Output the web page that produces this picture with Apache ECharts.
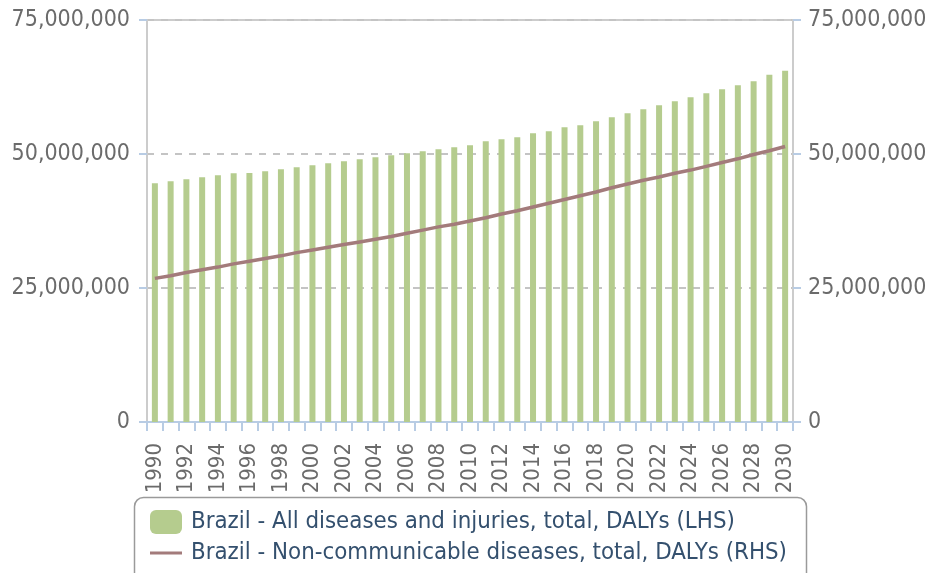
<!DOCTYPE html>
<html>
<head>
<meta charset="utf-8">
<script src="https://cdn.jsdelivr.net/npm/echarts@6/dist/echarts.min.js"></script>
<style>
html,body{margin:0;padding:0;background:#fff;}
#chart{width:932px;height:573px;}
</style>
</head>
<body>
<div id="chart"></div>
<script>
var years = [];
for (var y = 1990; y <= 2030; y++) years.push(String(y));

var allDiseases = [
  44.53, 44.91, 45.28, 45.65, 46.03, 46.40, 46.45, 46.77, 47.15, 47.52,
  47.89, 48.26, 48.64, 49.01, 49.39, 49.76, 50.13, 50.50, 50.88, 51.25,
  51.62, 52.37, 52.74, 53.12, 53.86, 54.24, 54.98, 55.36, 56.10, 56.85,
  57.59, 58.34, 59.09, 59.83, 60.58, 61.33, 62.07, 62.82, 63.56, 64.80,
  65.54
].map(function (v) { return Math.round(v * 1e6); });

var nonCommunicable = [
  26.8, 27.3, 27.9, 28.4, 28.9, 29.5, 30.0, 30.5, 31.0, 31.6,
  32.1, 32.6, 33.1, 33.6, 34.1, 34.6, 35.2, 35.8, 36.4, 36.9,
  37.5, 38.1, 38.8, 39.4, 40.1, 40.8, 41.5, 42.2, 42.9, 43.7,
  44.4, 45.1, 45.7, 46.4, 47.0, 47.7, 48.4, 49.1, 49.9, 50.6,
  51.4
].map(function (v) { return Math.round(v * 1e6); });

var seriesNames = [
  'Brazil - All diseases and injuries, total, DALYs (LHS)',
  'Brazil - Non-communicable diseases, total, DALYs (RHS)'
];

var FONT = '"DejaVu Sans Condensed", "DejaVu Sans", sans-serif';
function fmt(v) { return String(v).replace(/\B(?=(\d{3})+(?!\d))/g, ','); }

var legendText = {fontFamily: FONT, fontSize: 23.8, color: '#34506e', padding: [0, 0, 0, 4]};

var chart = echarts.init(document.getElementById('chart'), null, {renderer: 'canvas'});
chart.setOption({
  animation: false,
  backgroundColor: '#ffffff',
  textStyle: {fontFamily: FONT},
  grid: {
    left: 147, right: 139, top: 20, bottom: 151,
    show: true, borderColor: '#cccccc', borderWidth: 2, backgroundColor: 'transparent'
  },
  graphic: [{
    type: 'rect', z: -1,
    shape: {x: 134.5, y: 497.5, width: 672, height: 110, r: 9},
    style: {fill: '#ffffff', stroke: '#9a9a9a', lineWidth: 1.5}
  }],
  legend: [
    {
      left: 150, top: 510, padding: 0,
      itemWidth: 32, itemHeight: 24,
      textStyle: legendText,
      data: [{name: seriesNames[0], icon: 'roundRect'}]
    },
    {
      left: 150, top: 541, padding: 0,
      itemWidth: 32, itemHeight: 24,
      textStyle: legendText,
      data: [{name: seriesNames[1], icon: 'path://M0,0 L0,0 M0,10.5 L32,10.5 L32,13.5 L0,13.5 Z M32,24 L32,24'}]
    }
  ],
  xAxis: {
    type: 'category',
    data: years,
    boundaryGap: true,
    axisLine: {show: true, lineStyle: {color: '#b8cce4', width: 2}},
    axisTick: {show: true, interval: 0, length: 9, lineStyle: {color: '#b8cce4', width: 2}},
    axisLabel: {interval: 1, rotate: 90, margin: 21, color: '#6b6b6b', fontSize: 22, fontFamily: FONT},
    splitLine: {show: false}
  },
  yAxis: [
    {
      type: 'value', min: 0, max: 75000000, interval: 25000000,
      axisLine: {show: true, lineStyle: {color: '#cccccc', width: 2}},
      axisTick: {show: true, length: 8, lineStyle: {color: '#b8cce4', width: 2}},
      axisLabel: {color: '#6b6b6b', fontSize: 23, margin: 17, fontFamily: FONT, formatter: fmt},
      splitLine: {show: true, lineStyle: {color: '#c4c4c4', width: 2, type: [7, 7]}}
    },
    {
      type: 'value', min: 0, max: 75000000, interval: 25000000, position: 'right',
      axisLine: {show: true, lineStyle: {color: '#cccccc', width: 2}},
      axisTick: {show: true, length: 8, lineStyle: {color: '#b8cce4', width: 2}},
      axisLabel: {color: '#6b6b6b', fontSize: 23, margin: 15, fontFamily: FONT, formatter: fmt},
      splitLine: {show: false}
    }
  ],
  series: [
    {
      name: seriesNames[0], type: 'bar', yAxisIndex: 0,
      data: allDiseases, barWidth: 6,
      itemStyle: {color: '#b5cc8e'}
    },
    {
      name: seriesNames[1], type: 'line', yAxisIndex: 1,
      data: nonCommunicable, showSymbol: false, symbol: 'none',
      lineStyle: {color: '#a37b7b', width: 3.5},
      itemStyle: {color: '#a37b7b'}
    }
  ]
});
</script>
</body>
</html>
